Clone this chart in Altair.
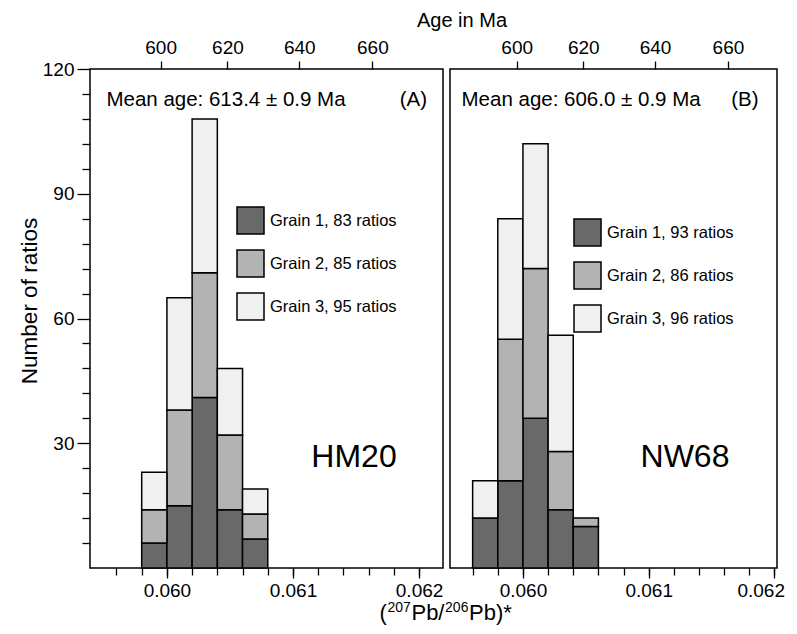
import altair as alt
import pandas as pd

FONT = "Liberation Sans"
BIN_WIDTH = 0.0002

# ---- Panel A (HM20) ----
a_bin_starts = [0.0598, 0.0600, 0.0602, 0.0604, 0.0606]
a_grain1 = [6, 15, 41, 14, 7]
a_grain2 = [8, 23, 30, 18, 6]
a_grain3 = [9, 27, 37, 16, 6]
a_legend = ["Grain 1, 83 ratios", "Grain 2, 85 ratios", "Grain 3, 95 ratios"]
a_mean = "Mean age: 613.4 \u00b1 0.9 Ma"
a_tag = "(A)"
a_name = "HM20"

# ---- Panel B (NW68) ----
b_bin_starts = [0.0596, 0.0598, 0.0600, 0.0602, 0.0604]
b_grain1 = [12, 21, 36, 14, 10]
b_grain2 = [0, 34, 36, 14, 2]
b_grain3 = [9, 29, 30, 28, 0]
b_legend = ["Grain 1, 93 ratios", "Grain 2, 86 ratios", "Grain 3, 96 ratios"]
b_mean = "Mean age: 606.0 \u00b1 0.9 Ma"
b_tag = "(B)"
b_name = "NW68"

grain_colors = ["#696969", "#b3b3b3", "#f0f0f0"]

# ---- axes ----
y_major = [30, 60, 90, 120]
y_minor = [6, 12, 18, 24, 36, 42, 48, 54, 66, 72, 78, 84, 96, 102, 108, 114]
x_major = [0.060, 0.061, 0.062]
x_minor = [0.0596, 0.0598, 0.0600, 0.0602, 0.0604, 0.0606, 0.0608, 0.0610,
           0.0612, 0.0614, 0.0616, 0.0618, 0.0620]
age_labels = [600, 620, 640, 660]
age_ratio = [0.05995, 0.06048, 0.06105, 0.06163]

x_title_parts = [("(", False), ("207", True), ("Pb/", False), ("206", True), ("Pb)*", False)]
y_title = "Number of ratios"
top_title = "Age in Ma"

a_domain = [0.05939, 0.06219]
b_domain = [0.05942, 0.06202]

# Liberation Sans advance widths (em) for the title pieces
CHAR_W = {"(": 0.333, ")": 0.333, "*": 0.389, "/": 0.278, "P": 0.667, "b": 0.556,
          "0": 0.556, "2": 0.556, "6": 0.556, "7": 0.556}


def bars_df(starts, g1, g2, g3, labels):
    rows = []
    base = [0] * len(starts)
    for k, series in enumerate([g1, g2, g3]):
        for i, (s, c) in enumerate(zip(starts, series)):
            if c > 0:
                rows.append(dict(start=s, end=s + BIN_WIDTH, y0=base[i],
                                 y1=base[i] + c, grain=labels[k], order=k))
            base[i] += c
    return pd.DataFrame(rows)


def age_expr():
    expr = f"'{age_labels[-1]}'"
    for i in range(len(age_labels) - 2, -1, -1):
        mid = (age_ratio[i] + age_ratio[i + 1]) / 2
        expr = f"datum.value < {mid} ? '{age_labels[i]}' : ({expr})"
    return expr


def text_layer(txt, x, y, size, align, angle=0):
    return alt.Chart(pd.DataFrame({"t": [txt]})).mark_text(
        align=align, baseline="alphabetic", fontSize=size, font=FONT, color="black",
        angle=angle,
    ).encode(text="t:N", x=alt.value(x), y=alt.value(y))


def x_title_layers(center_x, base_y):
    main_size, sup_size, rise = 22, 14, 8
    widths = []
    for txt, sup in x_title_parts:
        size = sup_size if sup else main_size
        widths.append(sum(CHAR_W[c] for c in txt) * size + 0.6)
    x = center_x - sum(widths) / 2
    layers = []
    for (txt, sup), w in zip(x_title_parts, widths):
        layers.append(text_layer(txt, x, base_y - rise if sup else base_y,
                                 sup_size if sup else main_size, "left"))
        x += w
    return layers


def panel(df, labels, domain, width, show_y, legend_xy, mean_txt, mean_x,
          tag_txt, tag_x, name_txt, name_x, with_titles, flush):
    xscale = alt.Scale(domain=domain, nice=False, zero=False)
    yscale = alt.Scale(domain=[0, 120], nice=False, zero=True)

    flush_opts = dict(labelFlush=4, labelFlushOffset=10) if flush else {}
    bottom_major = alt.Axis(orient="bottom", values=x_major, format=".3f", tickSize=10,
                            labelPadding=3, title=None, **flush_opts)
    bottom_minor = alt.Axis(orient="bottom", values=x_minor, labels=False,
                            tickSize=7, title=None)
    top_axis = alt.Axis(orient="top", values=age_ratio, labelExpr=age_expr(), tickSize=8,
                        labelPadding=4, title=None)
    if show_y:
        y_axis = alt.Axis(orient="left", values=y_major, tickSize=13, labelPadding=3,
                          title=None)
        y_minor_axis = alt.Axis(orient="left", values=y_minor, tickSize=8,
                                labels=False, title=None)
    else:
        y_axis = None
        y_minor_axis = None

    bars = alt.Chart(df).mark_bar(stroke="black", strokeWidth=1.5).encode(
        x=alt.X("start:Q", scale=xscale, axis=bottom_major),
        x2="end:Q",
        y=alt.Y("y0:Q", scale=yscale, axis=y_axis),
        y2="y1:Q",
        color=alt.Color(
            "grain:N",
            scale=alt.Scale(domain=labels, range=grain_colors),
            legend=alt.Legend(
                orient="none", legendX=legend_xy[0], legendY=legend_xy[1], title=None,
                symbolType="square", symbolSize=729, symbolStrokeColor="black",
                symbolStrokeWidth=1.5, symbolOpacity=1, labelFont=FONT,
                labelFontSize=16.5, labelColor="black", labelOffset=5,
                rowPadding=10, padding=0,
            ),
        ),
        order=alt.Order("order:Q", sort="ascending"),
    )
    minor = alt.Chart(df).mark_point(opacity=0).encode(
        x=alt.X("start:Q", scale=xscale, axis=bottom_minor),
        y=alt.Y("y1:Q", scale=yscale, axis=y_minor_axis),
    )
    top = alt.Chart(df).mark_point(opacity=0).encode(
        x=alt.X("start:Q", scale=xscale, axis=top_axis),
        y=alt.Y("y1:Q", scale=yscale, axis=None),
    )
    layers = [
        bars, minor, top,
        text_layer(mean_txt, mean_x, 36.7, 20.5, "left"),
        text_layer(tag_txt, tag_x, 36.7, 20.5, "right"),
        text_layer(name_txt, name_x, 398, 32, "center"),
    ]
    if with_titles:
        layers.append(text_layer(top_title, 372, -42, 20, "center"))
        layers.append(text_layer(y_title, -53, 232, 22.5, "center", angle=270))
        layers.extend(x_title_layers(356, 551))
    return alt.layer(*layers).resolve_axis(x="independent", y="independent").properties(
        width=width, height=499
    )


df_a = bars_df(a_bin_starts, a_grain1, a_grain2, a_grain3, a_legend)
df_b = bars_df(b_bin_starts, b_grain1, b_grain2, b_grain3, b_legend)

panel_a = panel(df_a, a_legend, a_domain, 353, True, (146, 137), a_mean, 16.4,
                a_tag, 337, a_name, 264, True, False)
panel_b = panel(df_b, b_legend, b_domain, 327, False, (123, 149), b_mean, 11.5,
                b_tag, 308.5, b_name, 235, False, True)

chart = (
    alt.hconcat(panel_a, panel_b, spacing=7, bounds="flush")
    .resolve_scale(color="independent", x="independent")
    .properties(padding={"left": 10, "top": 2, "right": 0, "bottom": 2})
    .configure_view(stroke="black", strokeWidth=1.5)
    .configure_axis(
        labelFont=FONT, labelFontSize=19, labelColor="black",
        titleFont=FONT, titleFontSize=20, titleFontWeight="normal", titleColor="black",
        tickColor="black", tickWidth=1.3, domain=False, grid=False,
    )
)

chart.save("out.html", embed_options={"renderer": "svg", "actions": False})
